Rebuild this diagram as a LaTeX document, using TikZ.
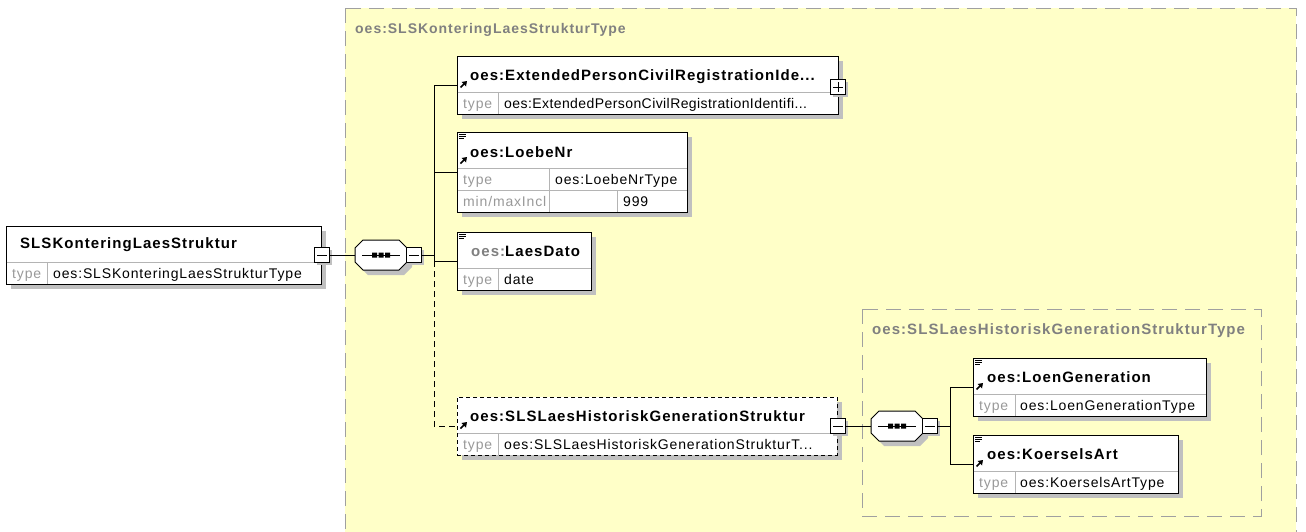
\documentclass[tikz,border=0pt]{standalone}
\usepackage{fontspec}
\setmainfont{Liberation Sans}
\newfontfamily\xf[LetterSpace=6]{Liberation Sans}
\newfontfamily\xb[LetterSpace=7]{Liberation Sans}
\usetikzlibrary{calc}
\definecolor{cont}{HTML}{FFFFC8}
\definecolor{contln}{HTML}{A0A0A0}
\definecolor{contlbl}{HTML}{808080}
\definecolor{shd}{HTML}{C0C0C0}
\definecolor{lbl}{HTML}{999999}
\definecolor{divc}{HTML}{B4B4B4}
\tikzset{
 ebox/.style={draw=black, fill=white, inner sep=0pt, outer sep=0pt, anchor=north west, line width=1pt},
 ttl/.style={anchor=base west, inner sep=0pt, font=\xb\fontsize{15}{17}\selectfont\bfseries},
 txt/.style={anchor=base west, inner sep=0pt, font=\xf\fontsize{14}{16}\selectfont},
 lbltxt/.style={txt, text=lbl},
 clbl/.style={ttl, text=contlbl},
 divl/.style={draw=divc, line width=1pt},
 conn/.style={draw=black, line width=1pt},
 dconn/.style={conn, dash pattern=on 6pt off 4pt},
 contbox/.style={draw=contln, fill=cont, line width=1pt, dash pattern=on 15pt off 8pt},
}
\newcommand\elbox[6]{% style, name, x1, y1, x2, y2
 \fill[shd] (#3+5,#4+5) rectangle (#5+5,#6+5);
 \node[ebox,#1, minimum width=#5-#3, minimum height=#6-#4] (#2) at (#3,#4) {};
}
\newcommand\sqbox[4]{% name, cx, cy, sign (0 minus / 1 plus)
 \fill[shd] (#2-5.5,#3-5.5) rectangle (#2+9.5,#3+9.5);
 \node[draw, fill=white, line width=1pt, minimum size=15, inner sep=0pt, outer sep=0pt] (#1) at (#2,#3) {};
 \draw[line width=1pt] (#2-5,#3) -- (#2+5,#3);
 \ifnum#4=1 \draw[line width=1pt] (#2,#3-5) -- (#2,#3+5);\fi
}
\newcommand\seqnode[3]{% name, cx, cy
 \begin{scope}[shift={(#2,#3)}]
  \fill[shd] (-21,-2) -- (-21,12) -- (-13,20) -- (23,20) -- (31,12) -- (31,-2) -- (23,-10) -- (-13,-10) -- cycle;
  \draw[fill=white, line width=1pt] (-26,-7) -- (-26,7) -- (-18,15) -- (18,15) -- (26,7) -- (26,-7) -- (18,-15) -- (-18,-15) -- cycle;
  \draw[line width=1pt] (-19,0) -- (19,0);
  \fill (-9,-2.5) rectangle (-4,2.5) (-2.5,-2.5) rectangle (2.5,2.5) (4,-2.5) rectangle (9,2.5);
  \node[inner sep=0pt, outer sep=0pt, minimum width=52, minimum height=30] (#1) at (0,0) {};
 \end{scope}}
\newcommand\refarrow[2]{% x of box left, y of header bottom
 \draw[line width=1.6pt] (#1+3.5,#2-4.5) -- (#1+7,#2-8);
 \fill (#1+10,#2-11) -- (#1+4.5,#2-10) -- (#1+9,#2-5.5) -- cycle;
}
\newcommand\docicon[2]{% x of box left, y of box top
 \draw[line width=0.9pt] (#1+2,#2+2.5) -- (#1+9,#2+2.5) (#1+2,#2+4.5) -- (#1+9,#2+4.5) (#1+2,#2+6.5) -- (#1+7,#2+6.5);
}
\begin{document}
\begin{tikzpicture}[x=1pt,y=-1pt]
\useasboundingbox (0,0) rectangle (1306,531);
\fill[white] (0,0) rectangle (1306,531);
\begin{scope}
\clip (0,0) rectangle (1306,531);
% outer container
\path[contbox] (345,8) rectangle (1296,560);
\node[clbl, font=\xb\fontsize{14}{16}\selectfont\bfseries] (outerlbl) at (355,33) {oes:SLSKonteringLaesStrukturType};
% inner container
\path[contbox] (862,309) rectangle (1261,516);
\node[clbl] (innerlbl) at (872,334) {oes:SLSLaesHistoriskGenerationStrukturType};
\end{scope}

% root element
\elbox{}{root}{6}{226}{321}{284}
\draw[divl] (6.5,262) -- (320.5,262) (47,262) -- (47,283.5);
\node[ttl] (roott) at (20,248) {SLSKonteringLaesStruktur};
\node[lbltxt] (rootl) at (12,278) {type};
\node[txt] (rootv) at (53,278) {oes:SLSKonteringLaesStrukturType};
\sqbox{rootm}{322}{255}{0}

% sequence 1
\seqnode{seq1}{381}{255}
\sqbox{s1m}{414}{255}{0}
\coordinate (b1) at (434,255);

% element 1
\elbox{}{e1}{457}{56}{838}{114}
\draw[divl] (457.5,92) -- (837.5,92) (498,92) -- (498,113.5);
\refarrow{457}{92}
\node[ttl] (e1t) at (470,80) {oes:ExtendedPersonCivilRegistrationIde...};
\node[lbltxt] (e1l) at (463,108) {type};
\node[txt, font=\xf\fontsize{14}{16}\selectfont\addfontfeature{LetterSpace=3}] (e1v) at (504,108) {oes:ExtendedPersonCivilRegistrationIdentifi...};
\sqbox{e1p}{838}{87}{1}

% element 2
\elbox{}{e2}{457}{132}{687}{212}
\draw[divl] (457.5,168) -- (686.5,168) (457.5,190) -- (686.5,190) (549,168) -- (549,211.5) (617,190) -- (617,211.5);
\docicon{457}{132}
\refarrow{457}{168}
\node[ttl] (e2t) at (470,157) {oes:LoebeNr};
\node[lbltxt] (e2l) at (463,184) {type};
\node[txt] (e2v) at (555,184) {oes:LoebeNrType};
\node[lbltxt] (e2ml) at (463,206) {min/maxIncl};
\node[txt] (e2mv) at (623,206) {999};

% element 3
\elbox{}{e3}{457}{232}{591}{290}
\draw[divl] (457.5,268) -- (590.5,268) (498,268) -- (498,289.5);
\docicon{457}{232}
\node[ttl] (e3t) at (471,256) {\textcolor{contlbl}{oes:}LaesDato};
\node[lbltxt] (e3l) at (463,284) {type};
\node[txt] (e3v) at (504,284) {date};

% element 4
\elbox{dash pattern=on 4pt off 3pt}{e4}{457}{397}{837}{455}
\draw[divl] (458,433) -- (836,433) (498,433) -- (498,454.5);
\refarrow{457}{433}
\node[ttl] (e4t) at (470,421) {oes:SLSLaesHistoriskGenerationStruktur};
\node[lbltxt] (e4l) at (463,449) {type};
\node[txt] (e4v) at (504,449) {oes:SLSLaesHistoriskGenerationStrukturT...};
\sqbox{e4m}{838}{426}{0}

% sequence 2
\seqnode{seq2}{897}{426}
\sqbox{s2m}{930}{426}{0}
\coordinate (b2) at (950,426);

% element 5
\elbox{}{e5}{973}{358}{1206}{416}
\draw[divl] (973.5,394) -- (1205.5,394) (1015,394) -- (1015,415.5);
\docicon{973}{358}
\refarrow{973}{394}
\node[ttl] (e5t) at (987,382) {oes:LoenGeneration};
\node[lbltxt] (e5l) at (979,410) {type};
\node[txt] (e5v) at (1020,410) {oes:LoenGenerationType};

% element 6
\elbox{}{e6}{973}{435}{1178}{493}
\draw[divl] (973.5,471) -- (1177.5,471) (1015,471) -- (1015,492.5);
\docicon{973}{435}
\refarrow{973}{471}
\node[ttl] (e6t) at (987,459) {oes:KoerselsArt};
\node[lbltxt] (e6l) at (979,487) {type};
\node[txt] (e6v) at (1020,487) {oes:KoerselsArtType};

% connectors
\draw[conn] (rootm.east) -- (seq1.west);
\draw[conn] (s1m.east) -- (b1);
\draw[conn] (b1) |- (e1.west);
\draw[conn] (b1) |- (e2.west);
\draw[conn] (b1) |- (e3.west);
\draw[dconn] (b1 |- e3.west) |- (e4.west);
\draw[conn] (e4m.east) -- (seq2.west);
\draw[conn] (s2m.east) -- (b2);
\draw[conn] (b2) |- (e5.west);
\draw[conn] (b2) |- (e6.west);
\end{tikzpicture}
\end{document}
